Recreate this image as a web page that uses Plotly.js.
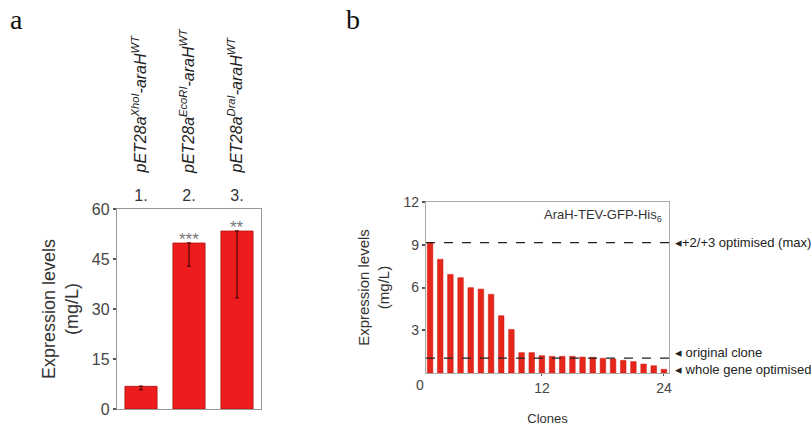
<!DOCTYPE html>
<html>
<head>
<meta charset="utf-8">
<script src="https://cdn.plot.ly/plotly-3.0.1.min.js"></script>
<style>html,body{margin:0;padding:0;background:#fff;}#chart{width:811px;height:426px;}</style>
</head>
<body>
<div id="chart"></div>
<script>
// ---- Panel a data ----
const catsA = ['1.', '2.', '3.'];
const constructsA = [
  ['pET28a', 'XhoI', '-araH', 'WT'],
  ['pET28a', 'EcoRI', '-araH', 'WT'],
  ['pET28a', 'DraI', '-araH', 'WT']
];
const valuesA = [6.8, 49.8, 53.4];
const errMinusA = [1.0, 7.0, 20.0];
const sigA = ['', '***', '**'];
const yTicksA = [0, 15, 30, 45, 60];

// ---- Panel b data ----
const clonesB = [1,2,3,4,5,6,7,8,9,10,11,12,13,14,15,16,17,18,19,20,21,22,23,24];
const valuesB = [9.15, 7.98, 6.92, 6.69, 5.99, 5.89, 5.52, 4.02, 3.06, 1.43, 1.43, 1.22,
                 1.17, 1.17, 1.17, 1.12, 1.10, 1.03, 0.98, 0.89, 0.80, 0.63, 0.51, 0.26];
const refLevelsB = [9.15, 1.05];
const refLabelsB = ['+2/+3 optimised (max)', 'original clone', 'whole gene optimised'];
const yTicksB = [3, 6, 9, 12];
const xTicksB = [0, 12, 24];

const W = 811, H = 426;
const px = v => v / W, py = v => 1 - v / H;
const FONT = 'Liberation Sans, Arial, sans-serif';
const sup = s => '<sup>' + s + '</sup>';

const traces = [
  {
    type: 'bar', x: [0, 1, 2], y: valuesA, xaxis: 'x', yaxis: 'y',
    marker: {color: '#ee1d1d', line: {color: '#b01010', width: 0.8}},
    error_y: {type: 'data', symmetric: false, array: valuesA.map(() => 0), arrayminus: errMinusA,
              color: '#6a0a0a', thickness: 1.5, width: 2},
    hoverinfo: 'none'
  },
  {
    type: 'bar', x: clonesB, y: valuesB, xaxis: 'x2', yaxis: 'y2', width: 0.55,
    marker: {color: '#e5261a', line: {color: '#d01a10', width: 0.5}},
    hoverinfo: 'none'
  }
];

const annotations = [];
annotations.push({xref: 'paper', yref: 'paper', x: px(8), y: py(2), xanchor: 'left', yanchor: 'top',
  text: 'a', showarrow: false, font: {family: 'Liberation Serif, serif', size: 28, color: '#111'}});
annotations.push({xref: 'paper', yref: 'paper', x: px(344), y: py(2), xanchor: 'left', yanchor: 'top',
  text: 'b', showarrow: false, font: {family: 'Liberation Serif, serif', size: 28, color: '#111'}});
// rotated construct labels
constructsA.forEach((c, i) => {
  annotations.push({xref: 'x', yref: 'paper', x: i, y: py(176), xanchor: 'center', yanchor: 'bottom',
    xshift: -2, text: '<i>' + c[0] + sup(c[1]) + c[2] + sup(c[3]) + '</i>', textangle: -90,
    showarrow: false, font: {family: FONT, size: 16, color: '#222'}});
});
// significance stars
sigA.forEach((s, i) => {
  if (!s) return;
  annotations.push({xref: 'x', yref: 'y', x: i, y: valuesA[i], yanchor: 'bottom', yshift: -8,
    text: s, showarrow: false, font: {family: FONT, size: 17, color: '#777'}});
});
// panel b inset title
annotations.push({xref: 'paper', yref: 'paper', x: px(664), y: py(205), xanchor: 'right', yanchor: 'top',
  text: 'AraH-TEV-GFP-His<sub>6</sub>', showarrow: false, font: {family: FONT, size: 13, color: '#333'}});
// reference line labels
annotations.push({xref: 'paper', yref: 'y2', x: px(673), y: refLevelsB[0], xanchor: 'left', yanchor: 'middle',
  text: '◂' + refLabelsB[0], showarrow: false, font: {family: FONT, size: 13, color: '#222'}});
annotations.push({xref: 'paper', yref: 'y2', x: px(673), y: refLevelsB[1], xanchor: 'left', yanchor: 'bottom',
  yshift: -4, text: '◂ ' + refLabelsB[1], showarrow: false, font: {family: FONT, size: 13, color: '#222'}});
annotations.push({xref: 'paper', yref: 'y2', x: px(673), y: refLevelsB[1], xanchor: 'left', yanchor: 'top',
  yshift: -2, text: '◂ ' + refLabelsB[2], showarrow: false, font: {family: FONT, size: 13, color: '#222'}});

const shapes = refLevelsB.map(v => ({
  type: 'line', xref: 'paper', yref: 'y2', x0: px(426), x1: px(676), y0: v, y1: v,
  line: {color: '#222', width: 1.3, dash: 'dash'}
}));

const layout = {
  width: W, height: H,
  margin: {l: 0, r: 0, t: 0, b: 0},
  paper_bgcolor: '#fff', plot_bgcolor: '#fff',
  showlegend: false,
  bargap: 0.33,
  font: {family: FONT, color: '#444'},
  xaxis: {
    domain: [px(117), px(261)], anchor: 'y', side: 'top', range: [-0.5, 2.5],
    tickvals: [0, 1, 2], ticktext: catsA,
    showline: true, mirror: true, linecolor: '#999', linewidth: 1.2,
    ticks: '', tickfont: {size: 16, color: '#333'}, showgrid: false, zeroline: false
  },
  yaxis: {
    domain: [1 - 409 / H, 1 - 209 / H], anchor: 'x', range: [0, 60], tickvals: yTicksA,
    showline: true, mirror: true, linecolor: '#999', linewidth: 1.2,
    ticks: 'outside', ticklen: 3, tickwidth: 2, tickcolor: '#555',
    tickfont: {size: 16, color: '#444'}, showgrid: false, zeroline: false,
    title: {text: 'Expression levels<br>(mg/L)', font: {size: 18, color: '#333'}, standoff: 8}
  },
  xaxis2: {
    domain: [px(426), px(669)], anchor: 'y2', range: [0.6, 24.5],
    tickvals: xTicksB.slice(1),
    showline: true, mirror: true, linecolor: '#aaa', linewidth: 1.2,
    ticks: 'outside', ticklen: 2, tickcolor: '#555',
    tickfont: {size: 14, color: '#444'}, showgrid: false, zeroline: false,
    title: {text: 'Clones', font: {size: 13, color: '#333'}, standoff: 22}
  },
  yaxis2: {
    domain: [1 - 373 / H, 1 - 202 / H], anchor: 'x2', range: [0, 12], tickvals: yTicksB,
    showline: true, mirror: true, linecolor: '#aaa', linewidth: 1.2,
    ticks: 'outside', ticklen: 3, tickwidth: 2, tickcolor: '#555',
    tickfont: {size: 14, color: '#444'}, showgrid: false, zeroline: false,
    title: {text: 'Expression levels<br>(mg/L)', font: {size: 15, color: '#333'}, standoff: 10}
  },
  annotations: annotations,
  shapes: shapes
};

// x-axis origin label of panel b (0 sits just left of the axis start)
layout.annotations.push({xref: 'paper', yref: 'paper', x: px(420), y: py(375), xanchor: 'center', yanchor: 'top',
  text: String(xTicksB[0]), showarrow: false, font: {family: FONT, size: 14, color: '#444'}});

Plotly.newPlot('chart', traces, layout, {staticPlot: true});
</script>
</body>
</html>
